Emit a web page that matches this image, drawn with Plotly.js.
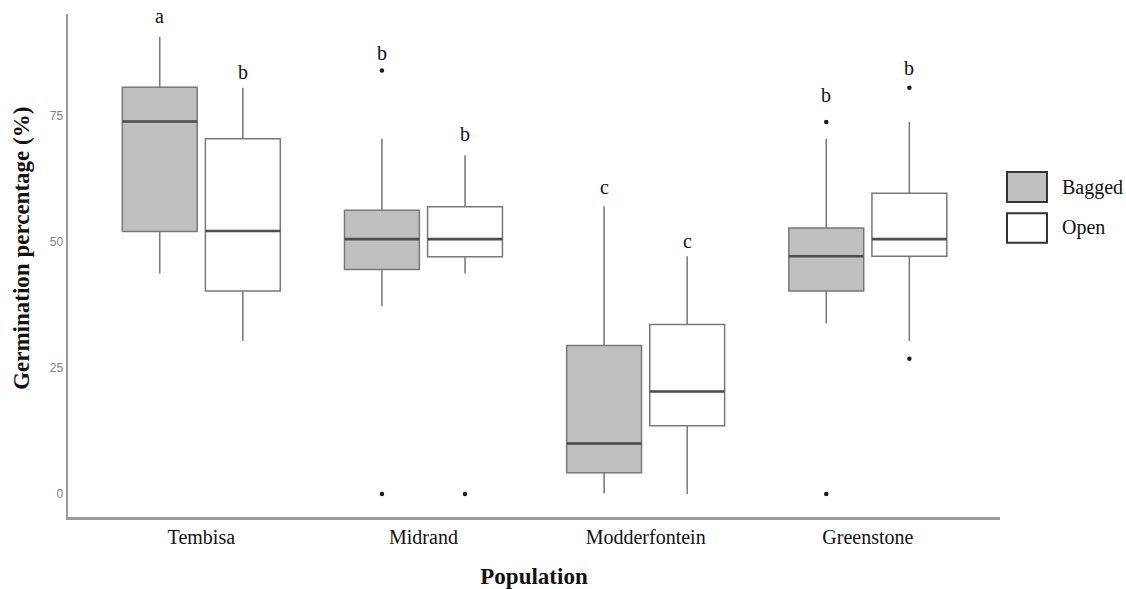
<!DOCTYPE html>
<html>
<head>
<meta charset="utf-8">
<script src="https://cdn.plot.ly/plotly-3.0.1.min.js"></script>
<style>html,body{margin:0;padding:0;background:#fff;}#chart{width:1126px;height:589px;}</style>
</head>
<body>
<div id="chart"></div>
<script>
// ---- data ----
const categories = ['Tembisa', 'Midrand', 'Modderfontein', 'Greenstone'];
const seriesNames = ['Bagged', 'Open'];

const baggedLower  = [43.7, 37.2, 0.1, 33.8];
const baggedQ1     = [52.0, 44.5, 4.2, 40.2];
const baggedMedian = [73.8, 50.5, 10.0, 47.1];
const baggedQ3     = [80.6, 56.2, 29.4, 52.7];
const baggedUpper  = [90.6, 70.4, 57.0, 70.4];
const baggedOutliers = [[], [83.9, 0], [], [73.7, 0]];

const openLower  = [30.3, 43.7, 0.0, 30.3];
const openQ1     = [40.2, 47.0, 13.5, 47.1];
const openMedian = [52.1, 50.5, 20.3, 50.5];
const openQ3     = [70.4, 56.9, 33.6, 59.6];
const openUpper  = [80.5, 67.1, 47.1, 73.7];
const openOutliers = [[], [0], [], [80.5, 26.8]];

const baggedLetters = ['a', 'b', 'c', 'b'];
const openLetters   = ['b', 'b', 'c', 'b'];
const baggedLetterY = [93.1, 85.8, 59.2, 77.5];
const openLetterY   = [82.0, 69.7, 48.5, 82.8];

const yTicks = [0, 25, 50, 75];

// ---- styling / layout ----
const OFFSET = 0.187, BOXW = 0.337;
const serif = 'Liberation Serif, Times New Roman, serif';
const boxLine = '#787878';
const fills = ['#c0c0c0', '#ffffff'];

const groups = [
  {name: seriesNames[0], off: -OFFSET, lo: baggedLower, q1: baggedQ1, med: baggedMedian, q3: baggedQ3, up: baggedUpper, out: baggedOutliers, letters: baggedLetters, ly: baggedLetterY, fill: fills[0]},
  {name: seriesNames[1], off:  OFFSET, lo: openLower, q1: openQ1, med: openMedian, q3: openQ3, up: openUpper, out: openOutliers, letters: openLetters, ly: openLetterY, fill: fills[1]}
];

const traces = [];
const annotations = [];
groups.forEach(g => {
  const xs = categories.map((c, i) => i + g.off);
  traces.push({
    type: 'box', name: g.name, x: xs,
    q1: g.q1, median: g.med, q3: g.q3, lowerfence: g.lo, upperfence: g.up,
    width: BOXW, whiskerwidth: 0, boxpoints: false,
    fillcolor: g.fill, line: {color: boxLine, width: 1.5},
    hoverinfo: 'skip', showlegend: false
  });
  // darker median lines
  const mx = [], my = [];
  xs.forEach((x, i) => { mx.push(x - BOXW / 2, x + BOXW / 2, null); my.push(g.med[i], g.med[i], null); });
  traces.push({type: 'scatter', mode: 'lines', x: mx, y: my, line: {color: '#4d4d4d', width: 2.6}, hoverinfo: 'skip', showlegend: false});
  // outliers
  const ox = [], oy = [];
  g.out.forEach((arr, i) => arr.forEach(v => { ox.push(xs[i]); oy.push(v); }));
  traces.push({type: 'scatter', mode: 'markers', x: ox, y: oy, marker: {color: '#1a1a1a', size: 4.5}, hoverinfo: 'skip', showlegend: false});
  // significance letters
  xs.forEach((x, i) => annotations.push({
    x: x, y: g.ly[i], xref: 'x', yref: 'y', text: g.letters[i], showarrow: false,
    yanchor: 'bottom', yshift: -5, font: {family: serif, size: 20, color: '#111'}
  }));
});

// custom legend
const shapes = [];
const legendRows = [{y0: 0.626, y1: 0.686, fill: fills[0], label: seriesNames[0], ty: 0.656},
                    {y0: 0.545, y1: 0.604, fill: fills[1], label: seriesNames[1], ty: 0.575}];
legendRows.forEach(r => {
  shapes.push({type: 'rect', xref: 'paper', yref: 'paper', x0: 1.0075, x1: 1.0504, y0: r.y0, y1: r.y1,
               fillcolor: r.fill, line: {color: '#333', width: 2}});
  annotations.push({xref: 'paper', yref: 'paper', x: 1.064, y: r.ty, xanchor: 'left', yanchor: 'middle',
                    text: r.label, showarrow: false, font: {family: serif, size: 20, color: '#111'}});
});

// y-axis title (placed as in the reference, slightly above the plot centre)
annotations.push({xref: 'paper', yref: 'paper', x: -0.0494, y: 0.535, xanchor: 'center', yanchor: 'middle',
                  textangle: -90, text: '<b>Germination percentage (%)</b>', showarrow: false,
                  font: {family: serif, size: 23, color: '#111'}});

const layout = {
  width: 1126, height: 589,
  margin: {l: 68, r: 126, t: 14, b: 72, pad: 0},
  paper_bgcolor: '#fff', plot_bgcolor: '#fff',
  showlegend: false,
  xaxis: {
    range: [-0.6, 3.595], tickvals: categories.map((c, i) => i), ticktext: categories,
    showgrid: false, zeroline: false, showline: true, linecolor: '#9a9a9a', linewidth: 2.5,
    ticks: '', tickfont: {family: serif, size: 20, color: '#111'},
    title: {text: '<b>Population</b>', font: {family: serif, size: 23, color: '#111'}, standoff: 24}
  },
  yaxis: {
    range: [-4.56, 95.1], tickvals: yTicks, ticktext: yTicks.map(String),
    showgrid: false, zeroline: false, showline: true, linecolor: '#9a9a9a', linewidth: 2.5,
    ticks: '', tickfont: {family: 'Liberation Sans, Arial, sans-serif', size: 12, color: '#808080'}
  },
  annotations: annotations,
  shapes: shapes
};

Plotly.newPlot('chart', traces, layout, {staticPlot: true, displayModeBar: false});
</script>
</body>
</html>
